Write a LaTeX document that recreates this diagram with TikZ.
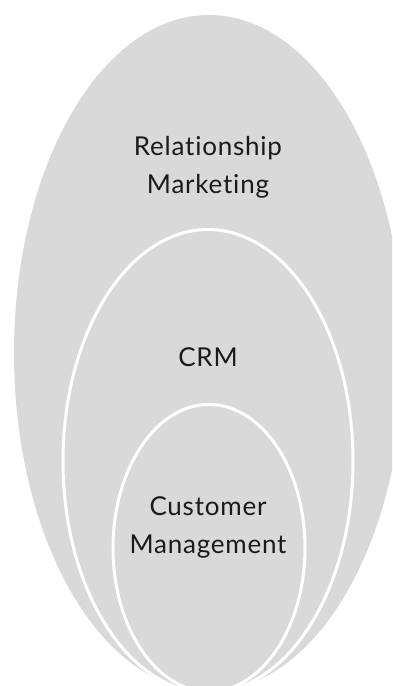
\documentclass[tikz,border=0pt]{standalone}
\usepackage{fontspec}
\setmainfont{Lato}[Ligatures={NoCommon}, LetterSpace=3]
\definecolor{shapegray}{HTML}{D9D9D9}
\definecolor{txt}{HTML}{1A1A1A}
\tikzset{
  ring/.style={fill=shapegray, draw=white, line width=3pt},
  lbl/.style={text=txt, font=\fontsize{26}{38}\selectfont, align=center, inner sep=0pt}
}
\begin{document}
\begin{tikzpicture}[x=1pt,y=-1pt]
\useasboundingbox (0,0) rectangle (392,686);
\clip (0,0) rectangle (392,686);
\fill[white] (0,0) rectangle (392,686);
\path[ring, draw=none] (209,353) ellipse [x radius=195, y radius=338];
\path[ring] (208,461) ellipse [x radius=145, y radius=231.5];
\path[ring] (209,548) ellipse [x radius=96, y radius=143.5];
\node[lbl] (rm) at (208,167) {Relationship\\Marketing};
\node[lbl, anchor=base] (crm) at (208,366) {CRM};
\node[lbl] (cm) at (208,527) {Customer\\Management};
\end{tikzpicture}
\end{document}
